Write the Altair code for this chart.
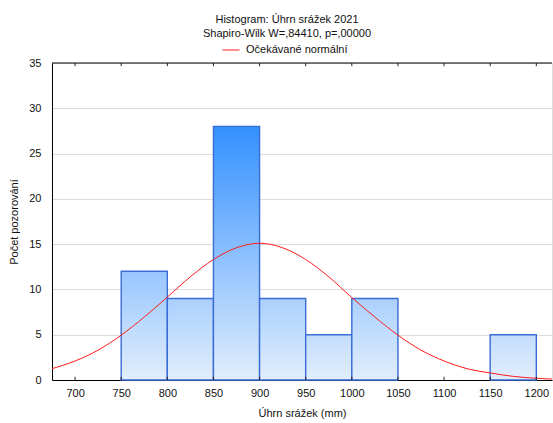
import altair as alt
import pandas as pd

# Histogram classes of annual precipitation (mm) and their counts
bin_start = [750, 800, 850, 900, 950, 1000, 1050, 1100, 1150]
bin_end = [800, 850, 900, 950, 1000, 1050, 1100, 1150, 1200]
counts = [12, 9, 28, 9, 5, 9, 0, 0, 5]

# Expected normal curve (scaled to counts), sampled every 25 mm
curve_x = [675, 700, 725, 750, 775, 800, 825, 850, 875, 900, 925, 950,
           975, 1000, 1025, 1050, 1075, 1100, 1125, 1150, 1175, 1200, 1225]
curve_y = [1.25, 2.1, 3.3, 4.95, 6.95, 9.15, 11.4, 13.3, 14.6, 15.1, 14.6, 13.3,
           11.4, 9.1, 6.95, 4.95, 3.3, 2.1, 1.25, 0.78, 0.4, 0.19, 0.08]

x_ticks = [700, 750, 800, 850, 900, 950, 1000, 1050, 1100, 1150, 1200]
y_ticks = [0, 5, 10, 15, 20, 25, 30, 35]

FONT = "Liberation Sans"
X_DOMAIN = [675, 1217]
Y_DOMAIN = [0, 35]

# bar fill shades with height: pale at zero, saturated blue at the tallest class
LOW = (226, 238, 253)
HIGH = (51, 144, 255)
Y_FULL = max(counts)


def shade(v):
    t = v / Y_FULL
    return "#%02x%02x%02x" % tuple(round(lo + (hi - lo) * t) for lo, hi in zip(LOW, HIGH))


x_scale = alt.Scale(domain=X_DOMAIN, nice=False, zero=False)
y_scale = alt.Scale(domain=Y_DOMAIN, nice=False)

x_axis = alt.Axis(values=x_ticks, title="Úhrn srážek (mm)", tickSize=0,
                  labelPadding=7, titlePadding=9, grid=False, domainColor="#000",
                  labelFontSize=11, titleFontSize=11, titleFontWeight="normal",
                  labelColor="#111", titleColor="#111", format="d")
y_axis = alt.Axis(values=y_ticks, title="Počet pozorování", tickSize=0,
                  labelPadding=11, titlePadding=9, grid=True, gridColor="#dcdcdc",
                  domainColor="#000", labelFontSize=11, titleFontSize=11,
                  titleFontWeight="normal", labelColor="#111", titleColor="#111")

layers = []
for s, e, c in zip(bin_start, bin_end, counts):
    if c == 0:
        continue
    d = pd.DataFrame({"start": [s], "end": [e], "count": [c]})
    grad = alt.Gradient(
        gradient="linear",
        stops=[alt.GradientStop(color=shade(c), offset=0),
               alt.GradientStop(color=shade(0), offset=1)],
        x1=0, x2=0, y1=0, y2=1,
    )
    layers.append(
        alt.Chart(d).mark_rect(fill=grad, stroke="#3a6cd6", strokeWidth=1.4).encode(
            x=alt.X("start:Q", scale=x_scale, axis=x_axis),
            x2="end:Q",
            y=alt.Y("count:Q", scale=y_scale, axis=y_axis),
            y2=alt.datum(0),
        )
    )

curve_df = pd.DataFrame({"x": curve_x, "y": curve_y,
                         "series": ["Očekávané normální"] * len(curve_x)})
curve = alt.Chart(curve_df).mark_line(strokeWidth=1, clip=True, interpolate="monotone").encode(
    x=alt.X("x:Q", scale=x_scale, axis=x_axis),
    y=alt.Y("y:Q", scale=y_scale, axis=y_axis),
    color=alt.Color("series:N", scale=alt.Scale(range=["#ff1a1a"]),
                    legend=alt.Legend(title=None, orient="none", legendX=170, legendY=-22,
                                      symbolType="stroke", symbolSize=289,
                                      symbolStrokeWidth=1, labelFontSize=11,
                                      labelColor="#111", labelFont=FONT, labelOffset=6)),
)

# top frame line across the whole x range
top_frame = alt.Chart(pd.DataFrame({"x0": [X_DOMAIN[0]], "x1": [X_DOMAIN[1]],
                                    "y": [Y_DOMAIN[1]]})).mark_rule(
    color="#000", strokeWidth=1).encode(
    x=alt.X("x0:Q", scale=x_scale, axis=x_axis),
    x2="x1:Q",
    y=alt.Y("y:Q", scale=y_scale, axis=y_axis),
)

# short inward tick marks on the bottom and top frame lines
tick_df = pd.DataFrame({
    "x": x_ticks + x_ticks,
    "y0": [0] * len(x_ticks) + [Y_DOMAIN[1] - 0.35] * len(x_ticks),
    "y1": [0.35] * len(x_ticks) + [Y_DOMAIN[1]] * len(x_ticks),
})
ticks = alt.Chart(tick_df).mark_rule(color="#222", strokeWidth=1).encode(
    x=alt.X("x:Q", scale=x_scale, axis=x_axis),
    y=alt.Y("y0:Q", scale=y_scale, axis=y_axis),
    y2="y1:Q",
)

chart = alt.layer(*layers, curve, top_frame, ticks).properties(
    width=500,
    height=317,
    autosize=alt.AutoSizeParams(type="none"),
    padding={"left": 52, "top": 63, "right": 1, "bottom": 43},
    title=alt.TitleParams(
        text="Histogram: Úhrn srážek 2021",
        subtitle=["Shapiro-Wilk W=,84410, p=,00000"],
        fontSize=11, subtitleFontSize=11, fontWeight="normal",
        font=FONT, subtitleFont=FONT, color="#111", subtitleColor="#111",
        anchor="middle", dx=-15, offset=2, subtitlePadding=3,
    ),
).configure_view(stroke=None).configure_axis(
    labelFont=FONT, titleFont=FONT
).configure(background="white")

chart.save("out.html", embed_options={"renderer": "svg", "actions": False})
